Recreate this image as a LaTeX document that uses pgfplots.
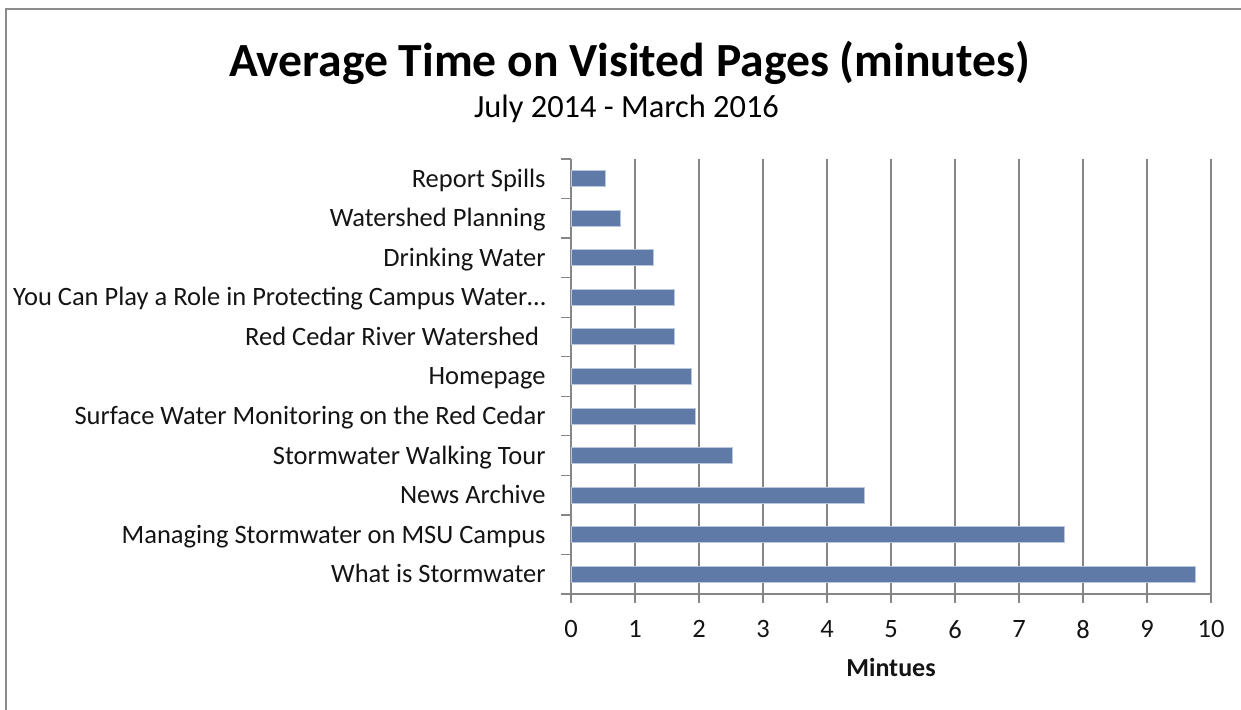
\documentclass[border=0pt]{standalone}
\usepackage{fontspec}
\setmainfont{Carlito}
\usepackage{pgfplots}
\pgfplotsset{compat=1.18}
\definecolor{barblue}{RGB}{96,122,168}
\definecolor{baredge}{RGB}{185,199,222}
\definecolor{gridgray}{RGB}{134,134,134}
\definecolor{framegray}{RGB}{140,140,140}
\definecolor{txt}{RGB}{20,20,20}
\begin{document}
\begin{tikzpicture}[x=0.5pt,y=0.5pt]
\path[use as bounding box] (0,0) rectangle (1241,710);
\draw[framegray, line width=1pt] (5.5,0) -- (5.5,700.5) -- (1241,700.5);
\node[font=\fontsize{23.8}{28}\selectfont\bfseries, anchor=base, inner sep=0pt] at (629.5,633) {Average Time on Visited Pages (minutes)};
\node[font=\fontsize{16.2}{19}\selectfont, anchor=base, inner sep=0pt] at (626.5,592) {July 2014 - March 2016};
\node[font=\fontsize{13.0}{16}\selectfont\bfseries, anchor=base, inner sep=0pt, text=txt] at (891,33) {Mintues};
\begin{axis}[
  at={(285.5pt,58pt)}, anchor=south west,
  scale only axis, width=320pt, height=217.5pt,
  xmin=0, xmax=10, ymin=-0.5, ymax=10.5,
  xtick={0,1,...,10}, ytick={0,1,...,10},
  yticklabels={What is Stormwater, Managing Stormwater on MSU Campus, News Archive, Stormwater Walking Tour, Surface Water Monitoring on the Red Cedar, Homepage, {Red Cedar River Watershed\hspace*{3.3pt}}, You Can Play a Role in Protecting Campus Water…, Drinking Water, Watershed Planning, Report Spills},
  minor ytick={-0.5,0.5,...,10.5},
  axis lines*=left,
  axis line style={gridgray, line width=0.6pt},
  xmajorgrids, major grid style={gridgray, line width=0.6pt},
  tick align=outside, major tick length=4.5pt, minor tick length=5pt,
  every tick/.style={gridgray, line width=0.6pt},
  major y tick style={draw=none},
  xbar, bar width=8pt,
  yticklabel style={font=\fontsize{13.25}{16}\selectfont, text=txt, inner sep=0pt, xshift=-8pt, text height=8.5pt, text depth=0pt},
  xticklabel style={font=\fontsize{13.25}{16}\selectfont, text=txt, inner sep=0pt, yshift=-8.5pt},
  /pgf/number format/assume math mode=true,
  clip=false,
]
\addplot[fill=barblue, draw=baredge, line width=0.5pt] coordinates {
(9.75,0) (7.71,1) (4.59,2) (2.53,3) (1.95,4) (1.88,5) (1.62,6) (1.61,7) (1.29,8) (0.77,9) (0.54,10)
};
\end{axis}
\end{tikzpicture}
\end{document}
